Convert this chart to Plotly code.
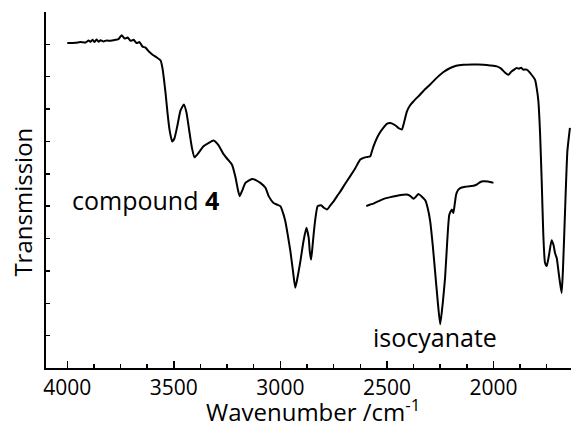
import plotly.graph_objects as go

# compound 4 spectrum (wavenumber cm-1, transmission a.u.)
compound_wn = [4000, 3961, 3938, 3914, 3900, 3891, 3881, 3872, 3863, 3853, 3844, 3830, 3816, 3797,
               3774, 3760, 3745, 3731, 3717, 3703, 3689, 3675, 3661, 3647, 3633, 3617, 3600, 3581,
               3562, 3553, 3546, 3539, 3530, 3520, 3508, 3497, 3483, 3469, 3453, 3441, 3427, 3415,
               3403, 3384, 3361, 3338, 3313, 3290, 3266, 3244, 3227, 3211, 3199, 3191, 3178, 3164,
               3133, 3113, 3094, 3070, 3055, 3032, 3016, 3000, 2988, 2977, 2965, 2953, 2941, 2930,
               2918, 2906, 2892, 2878, 2867, 2862, 2856, 2850, 2844, 2836, 2825, 2809, 2796, 2781,
               2766, 2750, 2734, 2719, 2695, 2672, 2648, 2625, 2606, 2592, 2578, 2571, 2563, 2539,
               2517, 2499, 2484, 2461, 2442, 2430, 2419, 2406, 2391, 2375, 2344, 2320, 2297, 2264,
               2236, 2203, 2175, 2141, 2100, 2072, 2047, 2016, 1984, 1964, 1945, 1930, 1917, 1903,
               1891, 1880, 1870, 1861, 1844, 1828, 1814, 1805, 1797, 1789, 1781, 1773, 1766, 1758,
               1750, 1739, 1727, 1718, 1711, 1703, 1695, 1688, 1680, 1674, 1665, 1653, 1641]
compound_t = [10.04, 10.05, 10.07, 10.06, 10.12, 10.08, 10.14, 10.07, 10.15, 10.08, 10.13, 10.09, 10.12, 10.11,
              10.14, 10.16, 10.28, 10.18, 10.21, 10.11, 10.14, 10.04, 10.07, 9.93, 9.90, 9.78, 9.68, 9.60,
              9.50, 9.25, 8.9, 8.5, 7.9, 7.35, 7.0, 7.1, 7.5, 7.95, 8.14, 7.9, 7.3, 6.8,
              6.51, 6.65, 6.85, 6.95, 7.03, 6.88, 6.60, 6.42, 6.28, 5.9, 5.5, 5.31, 5.5, 5.72,
              5.84, 5.80, 5.72, 5.57, 5.31, 5.10, 5.05, 5.0, 4.8, 4.54, 4.1, 3.61, 3.0, 2.48,
              2.85, 3.30, 3.9, 4.33, 4.02, 3.6, 3.35, 3.7, 4.12, 4.6, 5.0, 5.03, 4.95, 4.90,
              5.02, 5.15, 5.31, 5.45, 5.70, 5.93, 6.18, 6.44, 6.50, 6.52, 6.54, 6.68, 6.85, 7.21,
              7.42, 7.55, 7.57, 7.50, 7.40, 7.37, 7.6, 7.93, 8.12, 8.24, 8.45, 8.62, 8.76, 8.98,
              9.14, 9.27, 9.34, 9.37, 9.38, 9.38, 9.37, 9.35, 9.32, 9.25, 9.12, 9.06, 9.15, 9.22,
              9.27, 9.25, 9.28, 9.22, 9.22, 9.12, 9.0, 8.91, 8.65, 8.24, 7.22, 5.67, 4.13, 3.25,
              3.15, 3.5, 3.95, 3.8, 3.55, 3.40, 3.0, 2.65, 2.32, 3.0, 4.64, 6.7, 7.42]

# isocyanate spectrum
iso_wn = [2597, 2578, 2563, 2531, 2508, 2484, 2452, 2424, 2406, 2391, 2375, 2363, 2352, 2337,
          2320, 2309, 2297, 2285, 2274, 2262, 2250, 2238, 2227, 2217, 2207, 2195, 2188, 2181,
          2175, 2166, 2156, 2133, 2109, 2093, 2078, 2063, 2047, 2025, 2000]
iso_t = [5.00, 5.05, 5.08, 5.18, 5.24, 5.28, 5.32, 5.35, 5.36, 5.32, 5.23, 5.30, 5.38, 5.30,
         5.18, 4.95, 4.54, 3.8, 2.99, 2.1, 1.35, 2.0, 2.79, 3.9, 4.74, 4.90, 4.79, 5.1,
         5.36, 5.50, 5.56, 5.60, 5.62, 5.63, 5.67, 5.74, 5.77, 5.76, 5.72]

x_ticks = [4000, 3500, 3000, 2500, 2000]
x_ticklabels = ["4000", "3500", "3000", "2500", "2000"]
y_ticks = [1, 2, 3, 4, 5, 6, 7, 8, 9, 10]

line_style = dict(color="black", width=2, shape="spline", smoothing=0.5)

fig = go.Figure()
fig.add_trace(go.Scatter(x=compound_wn, y=compound_t, mode="lines", line=line_style,
                         name="compound 4", showlegend=False, hoverinfo="skip"))
fig.add_trace(go.Scatter(x=iso_wn, y=iso_t, mode="lines", line=line_style,
                         name="isocyanate", showlegend=False, hoverinfo="skip"))

font_main = "Open Sans"
label_size = 25

fig.update_layout(
    width=571, height=429,
    margin=dict(l=46, r=0, t=12, b=61),
    paper_bgcolor="white", plot_bgcolor="white",
    font=dict(family=font_main, color="black"),
    xaxis=dict(
        range=[4100, 1636], showline=True, linecolor="black", linewidth=2,
        showgrid=False, zeroline=False, mirror=False, automargin=False,
        tickvals=x_ticks, ticktext=x_ticklabels, ticks="inside", ticklen=7, tickwidth=1.5,
        tickcolor="black", tickfont=dict(size=21, family=font_main, color="black"),
        minor=dict(tick0=4000, dtick=125, ticks="inside", ticklen=4, tickwidth=1.5,
                   tickcolor="black", showgrid=False),
    ),
    yaxis=dict(
        range=[0, 11], showline=True, linecolor="black", linewidth=2,
        showgrid=False, zeroline=False, mirror=False, automargin=False,
        tickvals=y_ticks, ticks="inside", ticklen=4, tickwidth=1.5, tickcolor="black",
        showticklabels=False,
    ),
    annotations=[
        dict(text="compound <b>4</b>", x=3633, y=5.19, xref="x", yref="y",
             showarrow=False, font=dict(size=label_size, family=font_main), xanchor="center", yanchor="middle"),
        dict(text="isocyanate", x=2274, y=0.95, xref="x", yref="y",
             showarrow=False, font=dict(size=label_size, family=font_main), xanchor="center", yanchor="middle"),
        dict(text="Transmission", x=-23.5 / 525, y=0.466, xref="paper", yref="paper", textangle=-90,
             showarrow=False, font=dict(size=24, family=font_main), xanchor="center", yanchor="middle"),
        dict(text="Wavenumber /cm<sup>-1</sup>", x=0.5086, y=-42 / 356, xref="paper", yref="paper",
             showarrow=False, font=dict(size=24, family=font_main), xanchor="center", yanchor="middle"),
    ],
)

fig.write_html("out.html", config={"displayModeBar": False, "staticPlot": True},
               post_script="document.body.style.margin='0';document.body.style.overflow='hidden';")
